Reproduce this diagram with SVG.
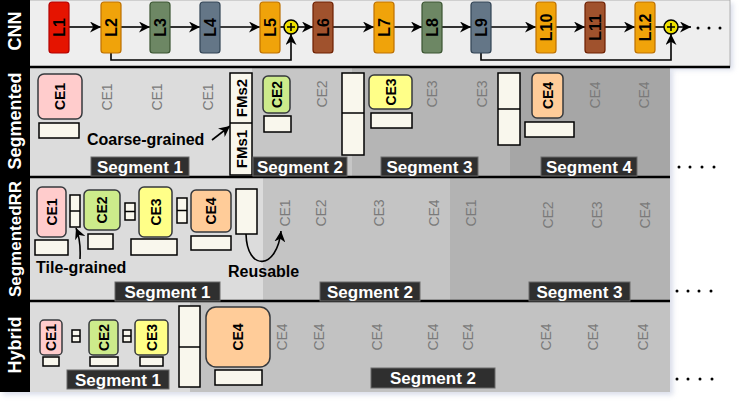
<svg xmlns="http://www.w3.org/2000/svg" width="744" height="402" viewBox="0 0 744 402">
<style>
text{font-family:"Liberation Sans",Arial,sans-serif}
.lay{stroke-width:1.2}
.lt{font-size:16px;font-weight:bold;fill:#000;text-anchor:middle;dominant-baseline:central}
.ce{stroke:#36393d;stroke-width:1.5}
.cet{font-size:14px;font-weight:bold;fill:#000;text-anchor:middle;dominant-baseline:central}
.g{font-size:14px;fill:#7a7a7a;text-anchor:middle;dominant-baseline:central}
.buf{fill:#f9f7ed;stroke:#000;stroke-width:1.5}
.tab{fill:#2f2f2f;stroke:#6a6a6a;stroke-width:1}
.tabt{font-size:17px;font-weight:bold;fill:#fff;text-anchor:middle;dominant-baseline:central}
.row{font-size:18px;font-weight:bold;fill:#fff;text-anchor:middle;dominant-baseline:central}
.note{font-size:16px;font-weight:bold;fill:#000}
.fm{font-size:15px;font-weight:bold;fill:#000;text-anchor:middle;dominant-baseline:central}
.con{fill:none;stroke:#000;stroke-width:1.6}
.sep{stroke:#000;stroke-width:2.5}
</style>
<defs>
<marker id="ah" markerUnits="userSpaceOnUse" markerWidth="11" markerHeight="11" refX="10" refY="5" orient="auto" viewBox="0 0 10 10">
<path d="M0,0 L10,5 L0,10 L3,5 z" fill="#000"/>
</marker>
<filter id="sh" x="-5%" y="-5%" width="110%" height="115%">
<feGaussianBlur stdDeviation="2.5"/>
</filter>
</defs>

<!-- shadows -->
<rect x="3" y="3" width="730" height="67" fill="#b8c0d8" opacity="0.5" filter="url(#sh)"/>
<rect x="3" y="70" width="670" height="325" fill="#b8c0d8" opacity="0.5" filter="url(#sh)"/>

<!-- CNN row background -->
<rect x="0" y="0" width="730" height="67" fill="#eeeeee" stroke="#a0a0a0" stroke-width="0.8"/>
<!-- Segmented row backgrounds -->
<g id="bg">
<rect x="30" y="67" width="222" height="110" fill="#dcdcdc"/>
<rect x="252" y="67" width="100" height="110" fill="#c6c6c6"/>
<rect x="352" y="67" width="158" height="110" fill="#b5b5b5"/>
<rect x="510" y="67" width="160" height="110" fill="#a6a6a6"/>
<rect x="30" y="177" width="233" height="124" fill="#dcdcdc"/>
<rect x="263" y="177" width="187" height="124" fill="#c4c4c4"/>
<rect x="450" y="177" width="220" height="124" fill="#b3b3b3"/>
<rect x="30" y="301" width="160" height="91" fill="#dcdcdc"/>
<rect x="190" y="301" width="480" height="91" fill="#c2c2c2"/>
</g>

<!-- left label column -->
<rect x="0" y="0" width="30" height="392" fill="#000"/>
<g id="rowlabels">
<text class="row" transform="translate(15,31) rotate(-90)">CNN</text>
<text class="row" transform="translate(15,121) rotate(-90)">Segmented</text>
<text class="row" transform="translate(15,239) rotate(-90)" style="font-size:17px">SegmentedRR</text>
<text class="row" transform="translate(15,345) rotate(-90)">Hybrid</text>
</g>

<!-- separators -->
<line class="sep" x1="0" y1="67" x2="730" y2="67"/>
<line class="sep" x1="0" y1="177" x2="670" y2="177"/>
<line class="sep" x1="0" y1="301" x2="670" y2="301"/>

<!-- connectors -->
<g id="connectors">
<line class="con" x1="69" y1="27" x2="101" y2="27" marker-end="url(#ah)"/>
<line class="con" x1="121" y1="27" x2="150" y2="27" marker-end="url(#ah)"/>
<line class="con" x1="170" y1="27" x2="200" y2="27" marker-end="url(#ah)"/>
<line class="con" x1="220" y1="27" x2="260" y2="27" marker-end="url(#ah)"/>
<line class="con" x1="280" y1="27" x2="284" y2="27"/>
<line class="con" x1="298" y1="27" x2="313" y2="27" marker-end="url(#ah)"/>
<line class="con" x1="333" y1="27" x2="374" y2="27" marker-end="url(#ah)"/>
<line class="con" x1="394" y1="27" x2="422" y2="27" marker-end="url(#ah)"/>
<line class="con" x1="442" y1="27" x2="471" y2="27" marker-end="url(#ah)"/>
<line class="con" x1="491" y1="27" x2="536" y2="27" marker-end="url(#ah)"/>
<line class="con" x1="556" y1="27" x2="585" y2="27" marker-end="url(#ah)"/>
<line class="con" x1="605" y1="27" x2="635" y2="27" marker-end="url(#ah)"/>
<line class="con" x1="655" y1="27" x2="664" y2="27"/>
<line class="con" x1="678" y1="27" x2="691" y2="27" marker-end="url(#ah)"/>
<polyline class="con" points="111,53 111,60 291,60 291,34" marker-end="url(#ah)"/>
<polyline class="con" points="481,53 481,60 671,60 671,34" marker-end="url(#ah)"/>
<line class="con" x1="212" y1="140" x2="230" y2="126" marker-end="url(#ah)"/>
<path class="con" d="M80,259 Q81,240 76,228" marker-end="url(#ah)"/>
<path class="con" d="M246,234 C247,272 277,270 281,231" marker-end="url(#ah)"/>
</g>

<!-- CNN layers -->
<g id="L1"><rect class="lay" x="49" y="2" width="20" height="51" rx="3" fill="#e51400" stroke="#b20000"/><text class="lt" transform="translate(59,27.5) rotate(-90)">L1</text></g>
<g id="L2"><rect class="lay" x="101" y="2" width="20" height="51" rx="3" fill="#f0a30a" stroke="#bd7000"/><text class="lt" transform="translate(111,27.5) rotate(-90)">L2</text></g>
<g id="L3"><rect class="lay" x="150" y="2" width="20" height="51" rx="3" fill="#6d8764" stroke="#3a5431"/><text class="lt" transform="translate(160,27.5) rotate(-90)">L3</text></g>
<g id="L4"><rect class="lay" x="200" y="2" width="20" height="51" rx="3" fill="#647687" stroke="#314354"/><text class="lt" transform="translate(210,27.5) rotate(-90)">L4</text></g>
<g id="L5"><rect class="lay" x="260" y="2" width="20" height="51" rx="3" fill="#f0a30a" stroke="#bd7000"/><text class="lt" transform="translate(270,27.5) rotate(-90)">L5</text></g>
<g id="add1"><circle cx="291" cy="27" r="7" fill="#eee000" stroke="#000" stroke-width="1.5"/><path d="M287,27 H295 M291,23 V31" stroke="#000" stroke-width="1.6"/></g>
<g id="L6"><rect class="lay" x="313" y="2" width="20" height="51" rx="3" fill="#a0522d" stroke="#6d1f00"/><text class="lt" transform="translate(323,27.5) rotate(-90)">L6</text></g>
<g id="L7"><rect class="lay" x="374" y="2" width="20" height="51" rx="3" fill="#f0a30a" stroke="#bd7000"/><text class="lt" transform="translate(384,27.5) rotate(-90)">L7</text></g>
<g id="L8"><rect class="lay" x="422" y="2" width="20" height="51" rx="3" fill="#6d8764" stroke="#3a5431"/><text class="lt" transform="translate(432,27.5) rotate(-90)">L8</text></g>
<g id="L9"><rect class="lay" x="471" y="2" width="20" height="51" rx="3" fill="#647687" stroke="#314354"/><text class="lt" transform="translate(481,27.5) rotate(-90)">L9</text></g>
<g id="L10"><rect class="lay" x="536" y="2" width="20" height="51" rx="3" fill="#f0a30a" stroke="#bd7000"/><text class="lt" transform="translate(546,27.5) rotate(-90)">L10</text></g>
<g id="L11"><rect class="lay" x="585" y="2" width="20" height="51" rx="3" fill="#a0522d" stroke="#6d1f00"/><text class="lt" transform="translate(595,27.5) rotate(-90)">L11</text></g>
<g id="L12"><rect class="lay" x="635" y="2" width="20" height="51" rx="3" fill="#f0a30a" stroke="#bd7000"/><text class="lt" transform="translate(645,27.5) rotate(-90)">L12</text></g>
<g id="add2"><circle cx="671" cy="27" r="7" fill="#eee000" stroke="#000" stroke-width="1.5"/><path d="M667,27 H675 M671,23 V31" stroke="#000" stroke-width="1.6"/></g>
<g id="dots0" fill="#000"><circle cx="698" cy="28" r="1.5"/><circle cx="709" cy="28" r="1.5"/><circle cx="720" cy="28" r="1.5"/></g>

<!-- Segmented row -->
<g id="seg-ce1"><rect class="ce" x="38" y="74" width="44" height="45" rx="6" fill="#ffcccc"/><text class="cet" transform="translate(60,96.5) rotate(-90)">CE1</text></g>
<rect class="buf" x="39" y="123" width="40" height="15"/>
<text class="g" transform="translate(107,97) rotate(-90)">CE1</text>
<text class="g" transform="translate(157,97) rotate(-90)">CE1</text>
<text class="g" transform="translate(208,97) rotate(-90)">CE1</text>
<text class="note" x="87" y="145">Coarse-grained</text>
<g id="seg-fms"><rect class="buf" x="230" y="73" width="22" height="102"/><line x1="230" y1="123" x2="252" y2="123" stroke="#000" stroke-width="1.5"/>
<text class="fm" transform="translate(241,98) rotate(-90)">FMs2</text><text class="fm" transform="translate(241,149) rotate(-90)">FMs1</text></g>
<g id="seg-s1"><rect class="tab" x="91" y="157" width="98" height="19"/><text class="tabt" x="140" y="167">Segment 1</text></g>
<g id="seg-ce2"><rect class="ce" x="263" y="76" width="27" height="37" rx="5" fill="#cdeb8b"/><text class="cet" transform="translate(276.5,94.5) rotate(-90)">CE2</text></g>
<rect class="buf" x="264" y="116" width="27" height="16"/>
<text class="g" transform="translate(322,94) rotate(-90)">CE2</text>
<g id="seg-fm2"><rect class="buf" x="342" y="73" width="22" height="82"/><line x1="342" y1="113" x2="364" y2="113" stroke="#000" stroke-width="1.5"/></g>
<g id="seg-ce3"><rect class="ce" x="369" y="75" width="43" height="34" rx="5" fill="#ffff88"/><text class="cet" transform="translate(390.5,92) rotate(-90)">CE3</text></g>
<rect class="buf" x="371" y="113" width="41" height="15"/>
<text class="g" transform="translate(432,94) rotate(-90)">CE3</text>
<text class="g" transform="translate(482,94) rotate(-90)">CE3</text>
<g id="seg-s2"><rect class="tab" x="253" y="157" width="94" height="19"/><text class="tabt" x="300" y="167">Segment 2</text></g>
<g id="seg-s3"><rect class="tab" x="381" y="157" width="97" height="19"/><text class="tabt" x="429.5" y="167">Segment 3</text></g>
<g id="seg-fm3"><rect class="buf" x="498" y="73" width="22" height="72"/><line x1="498" y1="109" x2="520" y2="109" stroke="#000" stroke-width="1.5"/></g>
<g id="seg-ce4"><rect class="ce" x="532" y="73" width="31" height="45" rx="5" fill="#ffcc99"/><text class="cet" transform="translate(547.5,95.5) rotate(-90)">CE4</text></g>
<rect class="buf" x="525" y="122" width="49" height="15"/>
<text class="g" transform="translate(595,95) rotate(-90)">CE4</text>
<text class="g" transform="translate(644,95) rotate(-90)">CE4</text>
<g id="seg-s4"><rect class="tab" x="541" y="157" width="96" height="19"/><text class="tabt" x="589" y="167">Segment 4</text></g>
<g id="dots1" fill="#000"><circle cx="679" cy="167" r="1.5"/><circle cx="690" cy="167" r="1.5"/><circle cx="702" cy="167" r="1.5"/><circle cx="714" cy="167" r="1.5"/></g>

<!-- SegmentedRR row -->
<g id="rr-ce1"><rect class="ce" x="37" y="187" width="29" height="50" rx="5" fill="#ffcccc"/><text class="cet" transform="translate(51.5,212) rotate(-90)">CE1</text></g>
<g id="rr-t1"><rect class="buf" x="70" y="195" width="10" height="32"/><line x1="70" y1="211" x2="80" y2="211" stroke="#000" stroke-width="1.5"/></g>
<g id="rr-ce2"><rect class="ce" x="84" y="190" width="36" height="40" rx="5" fill="#cdeb8b"/><text class="cet" transform="translate(102,210) rotate(-90)">CE2</text></g>
<g id="rr-t2"><rect class="buf" x="125" y="203" width="10" height="17"/><line x1="125" y1="211.5" x2="135" y2="211.5" stroke="#000" stroke-width="1.5"/></g>
<g id="rr-ce3"><rect class="ce" x="139" y="187" width="33" height="50" rx="5" fill="#ffff88"/><text class="cet" transform="translate(155.5,212) rotate(-90)">CE3</text></g>
<g id="rr-t3"><rect class="buf" x="177" y="198" width="10" height="25"/><line x1="177" y1="210.5" x2="187" y2="210.5" stroke="#000" stroke-width="1.5"/></g>
<g id="rr-ce4"><rect class="ce" x="191" y="190" width="40" height="42" rx="5" fill="#ffcc99"/><text class="cet" transform="translate(211,211) rotate(-90)">CE4</text></g>
<rect class="buf" x="236" y="189" width="21" height="45"/>
<rect class="buf" x="35" y="240" width="33" height="15"/>
<rect class="buf" x="88" y="234" width="25" height="15"/>
<rect class="buf" x="131" y="239" width="46" height="16"/>
<rect class="buf" x="191" y="236" width="40" height="14"/>
<text class="note" x="36" y="273">Tile-grained</text>
<text class="note" x="228" y="277">Reusable</text>
<text class="g" transform="translate(285,213) rotate(-90)">CE1</text>
<text class="g" transform="translate(321,213) rotate(-90)">CE2</text>
<text class="g" transform="translate(379,213) rotate(-90)">CE3</text>
<text class="g" transform="translate(434,213) rotate(-90)">CE4</text>
<text class="g" transform="translate(471,213) rotate(-90)">CE1</text>
<text class="g" transform="translate(548,215) rotate(-90)">CE2</text>
<text class="g" transform="translate(597,215) rotate(-90)">CE3</text>
<text class="g" transform="translate(645,215) rotate(-90)">CE4</text>
<g id="rr-s1"><rect class="tab" x="115" y="282" width="105" height="19"/><text class="tabt" x="167.5" y="292">Segment 1</text></g>
<g id="rr-s2"><rect class="tab" x="320" y="282" width="100" height="19"/><text class="tabt" x="370" y="292">Segment 2</text></g>
<g id="rr-s3"><rect class="tab" x="529" y="282" width="101" height="19"/><text class="tabt" x="579.5" y="292">Segment 3</text></g>
<g id="dots2" fill="#000"><circle cx="677" cy="291" r="1.5"/><circle cx="688" cy="291" r="1.5"/><circle cx="699" cy="291" r="1.5"/><circle cx="711" cy="291" r="1.5"/></g>

<!-- Hybrid row -->
<g id="hy-ce1"><rect class="ce" x="40" y="320" width="22" height="35" rx="4" fill="#ffcccc"/><text class="cet" transform="translate(51,337.5) rotate(-90)">CE1</text></g>
<rect class="buf" x="43" y="357" width="16" height="9"/>
<g id="hy-t1"><rect class="buf" x="72" y="330" width="8" height="12"/><line x1="72" y1="336" x2="80" y2="336" stroke="#000" stroke-width="1.5"/></g>
<g id="hy-ce2"><rect class="ce" x="89" y="320" width="29" height="35" rx="4" fill="#cdeb8b"/><text class="cet" transform="translate(103.5,337.5) rotate(-90)">CE2</text></g>
<rect class="buf" x="90" y="357" width="28" height="9"/>
<g id="hy-t2"><rect class="buf" x="123" y="330" width="8" height="12"/><line x1="123" y1="336" x2="131" y2="336" stroke="#000" stroke-width="1.5"/></g>
<g id="hy-ce3"><rect class="ce" x="135" y="320" width="33" height="35" rx="4" fill="#ffff88"/><text class="cet" transform="translate(151.5,337.5) rotate(-90)">CE3</text></g>
<rect class="buf" x="140" y="357" width="23" height="9"/>
<g id="hy-fm"><rect class="buf" x="179" y="306" width="21" height="81"/><line x1="179" y1="347" x2="200" y2="347" stroke="#000" stroke-width="1.5"/></g>
<g id="hy-ce4"><rect class="ce" x="206" y="307" width="64" height="60" rx="10" fill="#ffcc99"/><text class="cet" transform="translate(238,337) rotate(-90)">CE4</text></g>
<rect class="buf" x="215" y="370" width="47" height="15"/>
<text class="g" transform="translate(282,337) rotate(-90)">CE4</text>
<text class="g" transform="translate(319,337) rotate(-90)">CE4</text>
<text class="g" transform="translate(377,337) rotate(-90)">CE4</text>
<text class="g" transform="translate(433,337) rotate(-90)">CE4</text>
<text class="g" transform="translate(468,337) rotate(-90)">CE4</text>
<text class="g" transform="translate(546,337) rotate(-90)">CE4</text>
<text class="g" transform="translate(593,337) rotate(-90)">CE4</text>
<text class="g" transform="translate(643,337) rotate(-90)">CE4</text>
<g id="hy-s1"><rect class="tab" x="67" y="370" width="102" height="19"/><text class="tabt" x="118" y="380">Segment 1</text></g>
<g id="hy-s2"><rect class="tab" x="371" y="368" width="124" height="20"/><text class="tabt" x="433" y="378.5">Segment 2</text></g>
<g id="dots3" fill="#000"><circle cx="677" cy="379" r="1.5"/><circle cx="688" cy="379" r="1.5"/><circle cx="700" cy="379" r="1.5"/><circle cx="712" cy="379" r="1.5"/></g>
</svg>
